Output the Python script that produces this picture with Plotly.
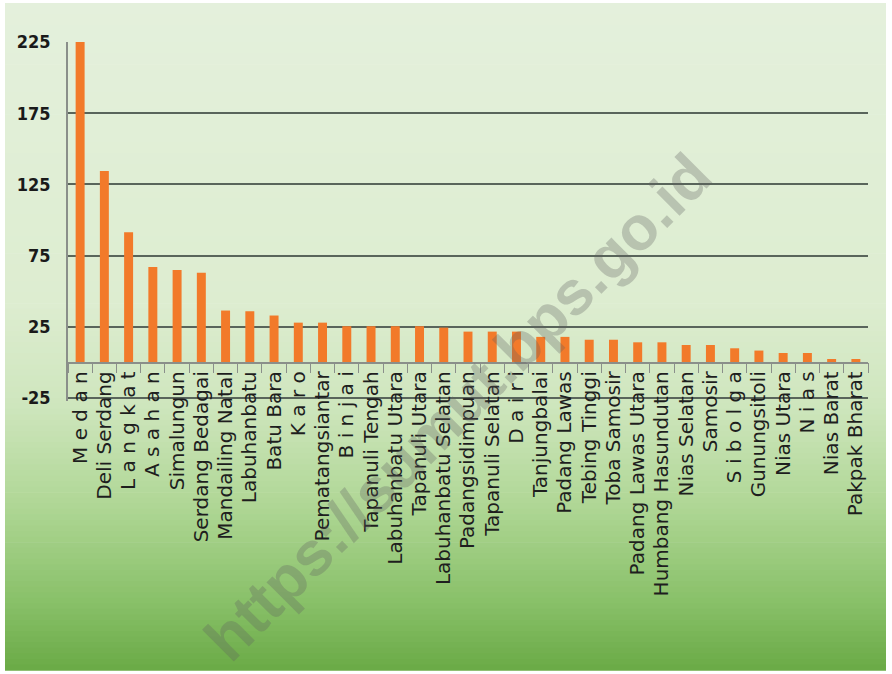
import plotly.graph_objects as go

categories = [
    "M e d a n", "Deli Serdang", "L a n g k a t", "A s a h a n", "Simalungun",
    "Serdang Bedagai", "Mandailing Natal", "Labuhanbatu", "Batu Bara", "K a r o",
    "Pematangsiantar", "B i n j a i", "Tapanuli Tengah", "Labuhanbatu Utara",
    "Tapanuli Utara", "Labuhanbatu Selatan", "Padangsidimpuan", "Tapanuli Selatan",
    "D a i r i", "Tanjungbalai", "Padang Lawas", "Tebing Tinggi", "Toba Samosir",
    "Padang Lawas Utara", "Humbang Hasundutan", "Nias Selatan", "Samosir",
    "S i b o l g a", "Gunungsitoli", "Nias Utara", "N i a s", "Nias Barat",
    "Pakpak Bharat",
]
values = [
    225, 134.5, 91.5, 67, 65,
    63, 36.5, 36, 33, 28,
    28, 25.5, 25.5, 25.5,
    25.5, 24.5, 21.7, 21.7,
    21.7, 18, 18, 16, 16,
    14.2, 14.2, 12.3, 12.3,
    10, 8.4, 6.7, 6.7, 2.5,
    2.5,
]
y_ticks = [-25, 25, 75, 125, 175, 225]
y_range = [-27, 225]

W, H = 892, 674
ML, MR, MT, MB = 68, 24, 42, 273
PW, PH = W - ML - MR, H - MT - MB


def px_to_paper_x(px):
    return (px - ML) / PW


def px_to_paper_y(py):
    return (H - MB - py) / PH


# background gradient stripes
stops = [(0.0, (228, 240, 220)), (0.45, (221, 237, 208)), (0.6, (207, 230, 190)),
         (0.75, (176, 215, 150)), (0.9, (136, 192, 104)), (1.0, (106, 170, 70))]


def col_at(t):
    for (t0, c0), (t1, c1) in zip(stops[:-1], stops[1:]):
        if t0 <= t <= t1:
            f = (t - t0) / (t1 - t0) if t1 > t0 else 0
            return tuple(round(c0[i] + (c1[i] - c0[i]) * f) for i in range(3))
    return stops[-1][1]


shapes = []
n = 120
top_px, bot_px = 3, 670
for i in range(n):
    ya = top_px + (bot_px - top_px) * i / n
    yb = top_px + (bot_px - top_px) * (i + 1) / n + 0.7
    c = col_at((i + 0.5) / n)
    shapes.append(dict(type="rect", xref="paper", yref="paper", layer="below",
                       x0=px_to_paper_x(5), x1=px_to_paper_x(886),
                       y0=px_to_paper_y(yb), y1=px_to_paper_y(ya),
                       fillcolor="rgb(%d,%d,%d)" % c, line=dict(width=0)))

fig = go.Figure(go.Bar(
    x=categories, y=values, width=0.37,
    marker=dict(color="#F27A2A", line=dict(width=0)),
    cliponaxis=False,
))

zero_pos = (0 - y_range[0]) / (y_range[1] - y_range[0])

fig.update_layout(
    width=W, height=H,
    margin=dict(l=ML, r=MR, t=MT, b=MB),
    paper_bgcolor="white",
    plot_bgcolor="rgba(0,0,0,0)",
    shapes=shapes,
    showlegend=False,
    xaxis=dict(
        type="category", anchor="free", position=zero_pos, automargin=False,
        tickmode="array", tickvals=categories, ticktext=categories,
        showgrid=False, showline=True, linecolor="#8a8f8a", linewidth=1.5,
        ticks="outside", tickson="boundaries", ticklen=10, tickcolor="#8a8f8a",
        tickangle=-90,
        tickfont=dict(family="DejaVu Sans", size=20, color="#1e1e1e"),
    ),
    yaxis=dict(
        range=y_range, tickvals=y_ticks, ticktext=[str(v) for v in y_ticks],
        automargin=False,
        showgrid=True, gridcolor="#59655b", gridwidth=2,
        zeroline=False, showline=True, linecolor="#8a8f8a", linewidth=1.5,
        ticks="", ticklabelstandoff=12,
        tickfont=dict(family="DejaVu Sans Condensed, Liberation Sans Narrow, Liberation Sans",
                      size=18, color="#1a1a1a", weight="bold"),
    ),
    annotations=[dict(
        text="<b>https://sumut.bps.go.id</b>", xref="paper", yref="paper",
        x=px_to_paper_x(457), y=px_to_paper_y(407), xanchor="center", yanchor="middle",
        textangle=-45, showarrow=False,
        font=dict(family="Liberation Sans", size=62, color="rgba(95,95,95,0.30)"),
    )],
)

fig.write_html("out.html", config={"displayModeBar": False},
               post_script="document.body.style.margin='0';")
